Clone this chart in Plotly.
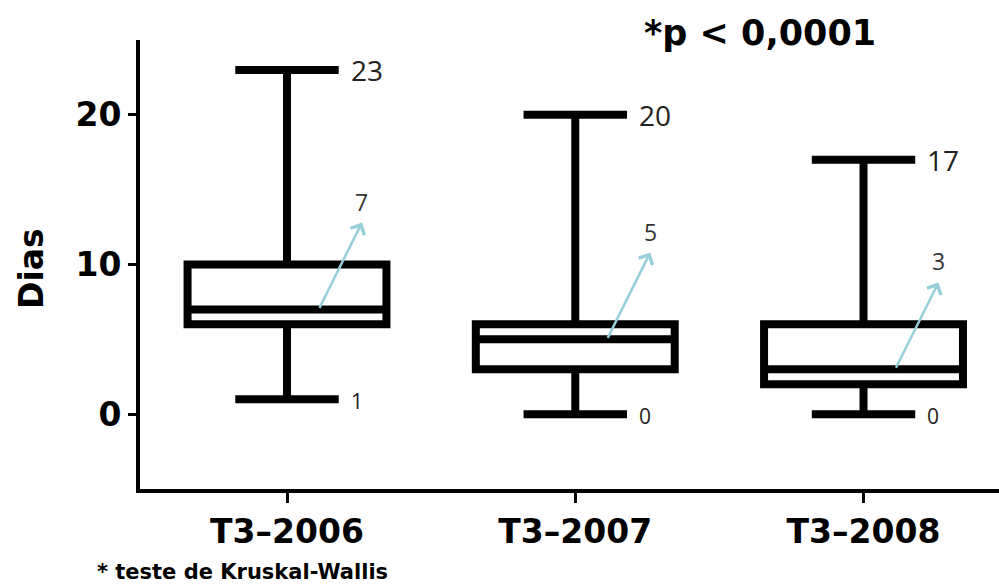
import plotly.graph_objects as go

# Quarterly length-of-stay summary (days)
categories = ["T3\u20132006", "T3\u20132007", "T3\u20132008"]
minimum = [1, 0, 0]
q1 = [6, 3, 2]
median = [7, 5, 3]
q3 = [10, 6, 6]
maximum = [23, 20, 17]
y_ticks = [0, 10, 20]

xpos = list(range(len(categories)))
BOX_W = 0.69
WHISK_W = 0.52

fig = go.Figure()
fig.add_trace(go.Box(
    x=xpos, q1=q1, median=median, q3=q3,
    lowerfence=minimum, upperfence=maximum,
    width=BOX_W, whiskerwidth=WHISK_W,
    line=dict(color="black", width=8),
    fillcolor="white", boxpoints=False, showlegend=False,
    hoverinfo="skip",
))

annotations = []
cap_half = BOX_W * WHISK_W / 2
for i, x in enumerate(xpos):
    # whisker end values
    annotations.append(dict(
        x=x + cap_half, y=maximum[i], xref="x", yref="y",
        text=str(maximum[i]), showarrow=False, xanchor="left", yanchor="middle",
        xshift=10, font=dict(family="Open Sans", size=28, color="#222222"),
    ))
    annotations.append(dict(
        x=x + cap_half, y=minimum[i], xref="x", yref="y",
        text=str(minimum[i]), showarrow=False, xanchor="left", yanchor="middle",
        xshift=10, yshift=-2, font=dict(family="Open Sans", size=21, color="#222222"),
    ))
    # median call-out arrow
    x0, y0 = x + 0.11, median[i]
    x1, y1 = x0 + 0.15, y0 + 5.8
    annotations.append(dict(
        x=x1, y=y1, ax=x0, ay=y0, xref="x", yref="y", axref="x", ayref="y",
        text="", showarrow=True, arrowhead=4, arrowsize=1.2, arrowwidth=2.5,
        arrowcolor="#96cedb",
    ))
    annotations.append(dict(
        x=x1, y=y1, xref="x", yref="y", text=str(median[i]), showarrow=False,
        xanchor="center", yanchor="bottom", yshift=3,
        font=dict(family="Open Sans", size=23, color="#333333"),
    ))

annotations += [
    dict(text="Dias", xref="paper", yref="paper", x=0, y=0.49, xshift=-108,
         textangle=-90, showarrow=False, xanchor="center", yanchor="middle",
         font=dict(family="DejaVu Sans", size=33, color="black", weight="bold")),
    dict(text="*p < 0,0001", xref="paper", yref="paper", x=0.722, y=1.016,
         showarrow=False, xanchor="center", yanchor="middle",
         font=dict(family="DejaVu Sans", size=35, color="black", weight="bold")),
    dict(text="* teste de Kruskal-Wallis", xref="paper", yref="paper", x=-0.052, y=-0.185,
         showarrow=False, xanchor="left", yanchor="middle",
         font=dict(family="DejaVu Sans", size=21, color="black", weight="bold")),
]

fig.update_layout(
    width=999, height=584,
    margin=dict(l=140, r=0, t=40, b=95),
    paper_bgcolor="white", plot_bgcolor="white",
    annotations=annotations,
    xaxis=dict(
        range=[-0.51, 2.47], tickvals=xpos, ticktext=categories,
        showline=True, linecolor="black", linewidth=4,
        ticks="outside", ticklen=10, tickwidth=3, tickcolor="black",
        showgrid=False, zeroline=False,
        tickfont=dict(family="DejaVu Sans", size=33, color="black", weight="bold"),
    ),
    yaxis=dict(
        range=[-5, 25], tickvals=y_ticks,
        showline=True, linecolor="black", linewidth=4,
        ticks="outside", ticklen=8, tickwidth=3, tickcolor="black",
        showgrid=False, zeroline=False,
        tickfont=dict(family="DejaVu Sans", size=33, color="black", weight="bold"),
    ),
)

fig.write_html("out.html")
